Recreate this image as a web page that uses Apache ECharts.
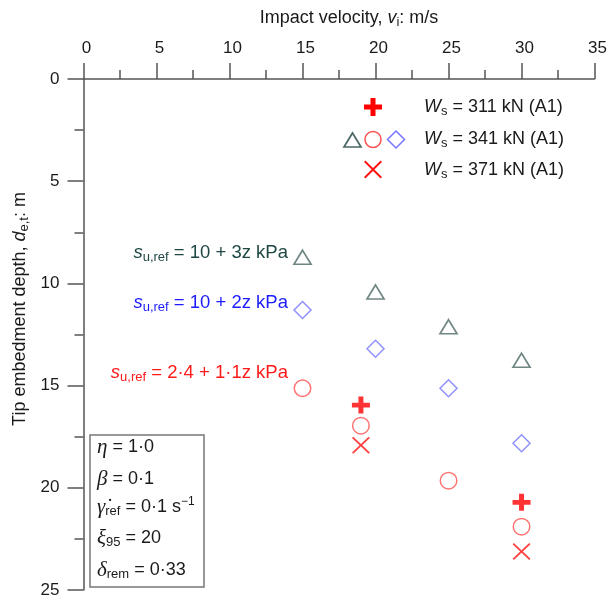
<!DOCTYPE html>
<html>
<head>
<meta charset="utf-8">
<script src="https://cdn.jsdelivr.net/npm/echarts@6/dist/echarts.min.js"></script>
<style>
  html, body { margin: 0; padding: 0; background: #fff; }
  #main { width: 610px; height: 602px; }
</style>
</head>
<body>
<div id="main"></div>
<script>
// 数据
const xTicks = [0, 5, 10, 15, 20, 25, 30, 35]
const yTicks = [0, 5, 10, 15, 20, 25]

// su,ref = 10 + 3z kPa （三角）
const triVel = [15, 20, 25, 30]
const triDepth = [8.72, 10.42, 12.12, 13.76]
// su,ref = 10 + 2z kPa （菱形）
const diaVel = [15, 20, 25, 30]
const diaDepth = [11.3, 13.2, 15.13, 17.82]
// su,ref = 2.4 + 1.1z kPa （圆）
const cirVel = [15, 19, 25, 30]
const cirDepth = [15.13, 16.96, 19.65, 21.9]
// Ws = 311 kN （加号）
const plusVel = [19, 30]
const plusDepth = [15.95, 20.71]
// Ws = 371 kN （叉号）
const crossVel = [19, 30]
const crossDepth = [17.92, 23.12]

const legendLabels = ['311', '341', '371']

const pairs = (xs, ys) => xs.map((v, i) => [v, ys[i]])

const FONT = '"Liberation Sans", Arial, sans-serif'
const SERIF = '"Liberation Serif", "DejaVu Serif", serif'
const TXT = '#1a1a1a'
const AX = '#555'

const rich = (col, fs) => ({
  it: { fontFamily: FONT, fontStyle: 'italic', fontSize: fs, lineHeight: 22, fill: col },
  sub: { fontFamily: FONT, fontSize: 13, lineHeight: 13, verticalAlign: 'bottom', fill: col },
  sup: { fontFamily: FONT, fontSize: 12, lineHeight: 12, verticalAlign: 'top', fill: col },
  gr: { fontFamily: SERIF, fontStyle: 'italic', fontSize: 21, lineHeight: 22, fill: col },
})

function label(text, x, y, col, align, rotation, fs) {
  fs = fs || 18
  return {
    type: 'text',
    x: x,
    y: y,
    rotation: rotation || 0,
    style: {
      text: text,
      fill: col,
      font: fs + 'px ' + FONT,
      lineHeight: 22,
      align: align,
      textAlign: align,
      verticalAlign: 'middle',
      textVerticalAlign: 'middle',
      rich: rich(col, fs),
    },
  }
}

const plusPath = 'path://M6.5,0H11.5V6.5H18V11.5H11.5V18H6.5V11.5H0V6.5H6.5Z'
const crossPath = 'path://M1.5,0L10,8.5L18.5,0L20,1.5L11.5,10L20,18.5L18.5,20L10,11.5L1.5,20L0,18.5L8.5,10L0,1.5Z'

function plusPts(cx, cy) {
  const a = 9, b = 2.5
  return [[cx - b, cy - a], [cx + b, cy - a], [cx + b, cy - b], [cx + a, cy - b], [cx + a, cy + b], [cx + b, cy + b],
    [cx + b, cy + a], [cx - b, cy + a], [cx - b, cy + b], [cx - a, cy + b], [cx - a, cy - b], [cx - b, cy - b]]
}
function crossPts(cx, cy) {
  const a = 9, t = 1.4
  return [[cx - a + t, cy - a], [cx, cy - t], [cx + a - t, cy - a], [cx + a, cy - a + t], [cx + t, cy], [cx + a, cy + a - t],
    [cx + a - t, cy + a], [cx, cy + t], [cx - a + t, cy + a], [cx - a, cy + a - t], [cx - t, cy], [cx - a, cy - a + t]]
}

const mychart = echarts.init(document.getElementById('main'))

const axisCommon = {
  type: 'value',
  axisLine: { show: true, onZero: false, lineStyle: { color: AX, width: 1.5 } },
  axisTick: { show: true, inside: false, length: 16, lineStyle: { color: AX, width: 1.5 } },
  minorTick: { show: true, splitNumber: 2, length: 9, lineStyle: { color: AX, width: 1.5 } },
  splitLine: { show: false },
  minorSplitLine: { show: false },
}

const option = {
  animation: false,
  grid: { left: 83.5, right: 12.3, top: 79, bottom: 12, containLabel: false },
  xAxis: Object.assign({}, axisCommon, {
    position: 'top',
    min: xTicks[0],
    max: xTicks[xTicks.length - 1],
    interval: 5,
    axisLabel: { margin: 22, fontSize: 17, color: TXT, fontFamily: FONT, padding: [0, 0, 0, 6] },
  }),
  yAxis: Object.assign({}, axisCommon, {
    inverse: true,
    min: yTicks[0],
    max: yTicks[yTicks.length - 1],
    interval: 5,
    axisLabel: { margin: 24, fontSize: 17, color: TXT, fontFamily: FONT },
  }),
  series: [
    {
      name: '10 + 3z', type: 'scatter', symbol: 'triangle', symbolSize: [17, 14],
      itemStyle: { color: 'transparent', borderColor: '#4b6866', borderWidth: 1.7 },
      emphasis: { disabled: true },
      data: pairs(triVel, triDepth),
    },
    {
      name: '10 + 2z', type: 'scatter', symbol: 'diamond', symbolSize: [17, 17],
      itemStyle: { color: 'transparent', borderColor: '#7676ff', borderWidth: 1.5 },
      emphasis: { disabled: true },
      data: pairs(diaVel, diaDepth),
    },
    {
      name: '2.4 + 1.1z', type: 'scatter', symbol: 'circle', symbolSize: 16.5,
      itemStyle: { color: 'transparent', borderColor: '#ff5050', borderWidth: 1.5 },
      emphasis: { disabled: true },
      data: pairs(cirVel, cirDepth),
    },
    {
      name: '311 kN', type: 'scatter', symbol: plusPath, symbolSize: [18, 17],
      itemStyle: { color: '#ff0000' },
      emphasis: { disabled: true },
      data: pairs(plusVel, plusDepth),
    },
    {
      name: '371 kN', type: 'scatter', symbol: crossPath, symbolSize: [18, 17],
      itemStyle: { color: '#ff1414' },
      emphasis: { disabled: true },
      data: pairs(crossVel, crossDepth),
    },
  ],
  graphic: [
    // 坐标轴标题
    label('Impact velocity, {it|v}{sub|i}: m/s', 349, 18, TXT, 'center'),
    label('Tip embedment depth, {it|d}{sub|e,t}: m', 20, 309, TXT, 'center', Math.PI / 2),
    // 图例
    { type: 'polygon', shape: { points: plusPts(373, 107) }, style: { fill: '#ff0000' } },
    { type: 'polygon', shape: { points: [[352.5, 133], [361, 147], [344, 147]] }, style: { fill: 'none', stroke: '#4b6866', lineWidth: 1.7 } },
    { type: 'circle', shape: { cx: 373, cy: 139.5, r: 8 }, style: { fill: 'none', stroke: '#ff5050', lineWidth: 1.5 } },
    { type: 'polygon', shape: { points: [[396, 131], [404.5, 139.5], [396, 148], [387.5, 139.5]] }, style: { fill: 'none', stroke: '#7676ff', lineWidth: 1.5 } },
    { type: 'polygon', shape: { points: crossPts(373, 169.5) }, style: { fill: '#ff1414' } },
    label('{it|W}{sub|s} = ' + legendLabels[0] + ' kN (A1)', 424, 107, TXT, 'left'),
    label('{it|W}{sub|s} = ' + legendLabels[1] + ' kN (A1)', 424, 139, TXT, 'left'),
    label('{it|W}{sub|s} = ' + legendLabels[2] + ' kN (A1)', 424, 170, TXT, 'left'),
    // 强度剖面标注
    label('{it|s}{sub|u,ref} = 10 + 3z kPa', 288, 253, '#1e4744', 'right', 0, 18.5),
    label('{it|s}{sub|u,ref} = 10 + 2z kPa', 288, 302.5, '#1c1cff', 'right', 0, 18.5),
    label('{it|s}{sub|u,ref} = 2·4 + 1·1z kPa', 288, 373, '#ff1a1a', 'right', 0, 18.5),
    // 参数框
    { type: 'rect', shape: { x: 90, y: 435, width: 114, height: 152 }, style: { fill: '#fff', stroke: '#777', lineWidth: 1.5 } },
    label('{gr|η} = 1·0', 97, 447, TXT, 'left'),
    label('{gr|β} = 0·1', 97, 479, TXT, 'left'),
    label('{gr|γ̇}{sub|ref} = 0·1 s{sup|−1}', 97, 507, TXT, 'left'),
    label('{gr|ξ}{sub|95} = 20', 97, 538, TXT, 'left'),
    label('{gr|δ}{sub|rem} = 0·33', 97, 570, TXT, 'left'),
  ],
}

mychart.setOption(option)
window.addEventListener('resize', function () {
  mychart.resize()
})
</script>
</body>
</html>
